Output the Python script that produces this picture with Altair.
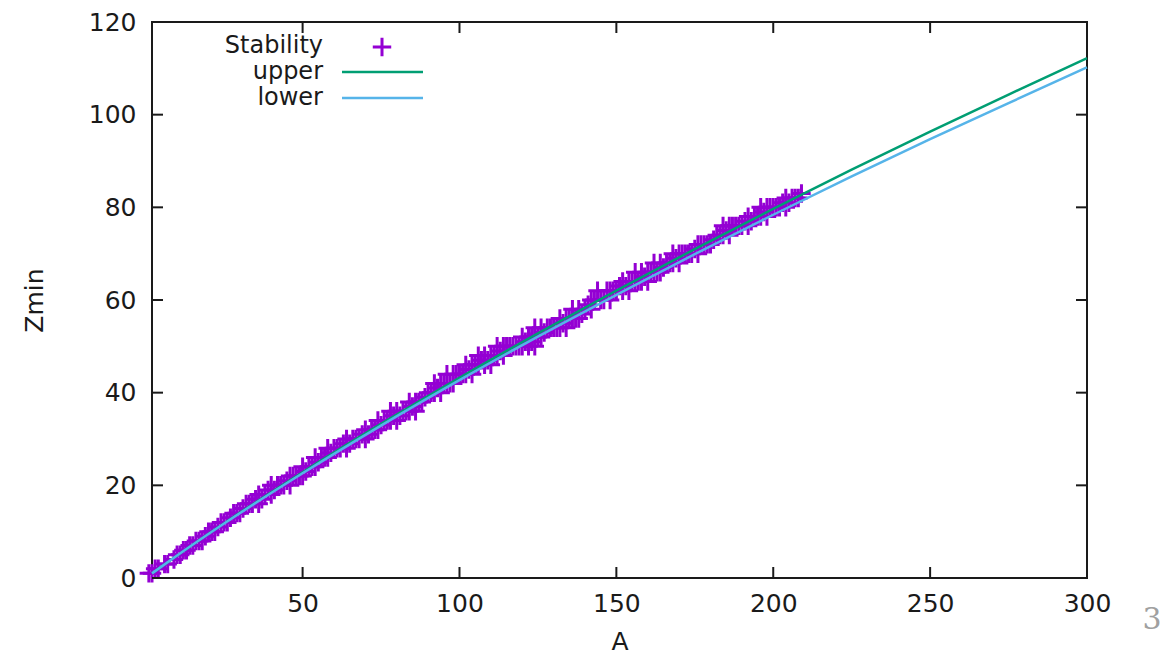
import altair as alt
import pandas as pd

# ---- data ----
stab_A = [
    1, 2, 3, 4, 6, 7, 9, 10, 11, 12, 13, 14, 15, 16, 17, 18, 19, 20, 21, 22,
    23, 24, 25, 26, 27, 28, 29, 30, 31, 32, 33, 34, 35, 36, 36, 37, 38, 39, 40, 40, 41, 42, 43, 44, 45,
    46, 46, 47, 48, 49, 50, 50, 51, 52, 53, 54, 54, 55, 56, 57, 58, 58, 59, 60, 61, 62, 63, 64, 64, 65, 66, 67, 68, 69,
    70, 70, 71, 72, 73, 74, 74, 75, 76, 77, 78, 78, 79, 80, 80, 81, 82, 83, 84, 84, 85, 86, 86, 87, 88, 89, 90, 91, 92, 92, 93, 94, 94, 95, 96, 96, 97, 98, 98, 99,
    100, 101, 102, 102, 103, 104, 104, 105, 106, 106, 107, 108, 108, 109, 110, 110, 111, 112, 112, 113, 114, 114, 115, 116, 117, 118, 119, 120, 120, 121, 122, 122, 123, 123, 124, 124, 124, 125,
    126, 126, 127, 128, 129, 130, 131, 132, 132, 133, 134, 134, 135, 136, 136, 137, 138, 138, 139, 140, 141, 142, 142, 143, 144, 145, 146, 147, 148, 148, 149, 150, 151,
    152, 152, 153, 154, 154, 155, 156, 156, 157, 158, 158, 159, 160, 160, 161, 162, 162, 163, 164, 164, 165, 166, 167, 168, 168, 169, 170, 170, 171, 172, 173, 174, 175, 176, 176, 177, 178, 179, 180,
    181, 182, 183, 184, 184, 185, 186, 186, 187, 188, 189, 190, 191, 192, 192, 193, 194, 195, 196, 196, 197, 198, 198, 199, 200, 201, 202, 203, 204, 204, 205, 206, 207, 208, 209,
]
stab_Z = [
    1, 1, 2, 2, 3, 3, 4, 5, 5, 6, 6, 7, 7, 8, 8, 8, 9, 10, 10, 10,
    11, 12, 12, 12, 13, 14, 14, 14, 15, 16, 16, 16, 17, 16, 18, 17, 18, 19, 18, 20, 19, 20, 20, 20, 21,
    20, 22, 22, 22, 22, 22, 24, 23, 24, 24, 24, 26, 25, 26, 26, 26, 28, 27, 28, 28, 28, 29, 28, 30, 29, 30, 30, 30, 31,
    30, 32, 31, 32, 32, 32, 34, 33, 34, 34, 34, 36, 35, 34, 36, 35, 36, 36, 36, 38, 37, 36, 38, 38, 38, 39, 40, 40, 40, 42, 41, 40, 42, 42, 42, 44, 42, 42, 44, 44,
    44, 44, 44, 46, 45, 44, 46, 46, 46, 48, 47, 46, 48, 47, 46, 48, 48, 48, 50, 49, 48, 50, 50, 50, 50, 50, 50, 50, 52, 51, 50, 52, 51, 52, 50, 52, 54, 52,
    52, 54, 53, 54, 54, 54, 54, 54, 56, 55, 54, 56, 56, 56, 58, 56, 56, 58, 57, 58, 59, 58, 60, 60, 62, 60, 60, 62, 60, 62, 62, 62, 63,
    62, 64, 63, 62, 64, 64, 64, 66, 64, 64, 66, 65, 64, 66, 66, 66, 68, 66, 66, 68, 67, 68, 68, 68, 70, 69, 68, 70, 70, 70, 70, 70, 71, 70, 72, 72, 72, 72, 72,
    73, 74, 74, 74, 76, 75, 74, 76, 76, 76, 76, 76, 77, 76, 78, 77, 78, 78, 78, 80, 79, 78, 80, 80, 80, 80, 80, 81, 80, 82, 81, 82, 82, 82, 83,
]
assert len(stab_A) == len(stab_Z)

line_A = [2, 10, 25, 50, 75, 100, 125, 150, 175, 200, 225, 250, 275, 300]
upper_Z = [1.0, 4.87, 11.83, 22.83, 33.25, 43.22, 52.80, 62.04, 70.99, 79.68, 88.12, 96.33, 104.34, 112.2]
lower_Z = [1.0, 4.85, 11.75, 22.6, 32.9, 42.7, 52.1, 61.1, 69.9, 78.4, 86.7, 94.7, 102.5, 110.2]

x_ticks = [50, 100, 150, 200, 250, 300]
y_ticks = [0, 20, 40, 60, 80, 100, 120]

series_names = ["Stability", "upper", "lower"]
page_label = "3"

# ---- styling ----
W, H = 935, 556
FONT = "DejaVu Sans"
INK = "#1a1a1a"
PURPLE = "#9400D3"
GREEN = "#009E73"
BLUE = "#56B4E9"
PLUS = "M-1,0L1,0M0,-1L0,1"

xs = alt.Scale(domain=[2, 300], nice=False, zero=False)
ys = alt.Scale(domain=[0, 120], nice=False, zero=False)

x_axis = alt.Axis(values=x_ticks, ticks=False, domain=False, grid=False,
                  labelFont=FONT, labelFontSize=25, labelColor=INK, labelPadding=13,
                  title="A", titleFont=FONT, titleFontSize=25, titleFontWeight="normal",
                  titleColor=INK, titlePadding=13, labelFlush=False)
y_axis = alt.Axis(values=y_ticks, ticks=False, domain=False, grid=False,
                  labelFont=FONT, labelFontSize=25, labelColor=INK, labelPadding=16,
                  title="Zmin", titleFont=FONT, titleFontSize=25, titleFontWeight="normal",
                  titleColor=INK, titlePadding=41, labelFlush=False)

X = lambda f: alt.X(f, type="quantitative", scale=xs, axis=x_axis)
Y = lambda f: alt.Y(f, type="quantitative", scale=ys, axis=y_axis)

stab = pd.DataFrame({"A": stab_A, "Z": stab_Z})
up = pd.DataFrame({"A": line_A, "Z": upper_Z})
lo = pd.DataFrame({"A": line_A, "Z": lower_Z})

points = alt.Chart(stab).mark_point(shape=PLUS, size=340, stroke=PURPLE, strokeWidth=3,
                                    filled=False, opacity=1).encode(x=X("A"), y=Y("Z"))
upper = alt.Chart(up).mark_line(color=GREEN, strokeWidth=2.5, interpolate="monotone").encode(x=X("A"), y=Y("Z"))
lower = alt.Chart(lo).mark_line(color=BLUE, strokeWidth=2.5, interpolate="monotone").encode(x=X("A"), y=Y("Z"))

xt = pd.DataFrame({"A": x_ticks})
yt = pd.DataFrame({"Z": y_ticks})
tick_style = dict(color=INK, strokeWidth=2)
tb = alt.Chart(xt).mark_rule(**tick_style).encode(x=X("A"), y=alt.value(H), y2=alt.value(H - 11))
tt = alt.Chart(xt).mark_rule(**tick_style).encode(x=X("A"), y=alt.value(0), y2=alt.value(11))
tl = alt.Chart(yt).mark_rule(**tick_style).encode(y=Y("Z"), x=alt.value(0), x2=alt.value(11))
tr = alt.Chart(yt).mark_rule(**tick_style).encode(y=Y("Z"), x=alt.value(W - 11), x2=alt.value(W))

# ---- legend (gnuplot style: label, then sample) ----
def one(label):
    return pd.DataFrame({"t": [label]})

leg_rows = [24, 50, 76]
leg_texts = [
    alt.Chart(one(n)).mark_text(align="right", baseline="middle", font=FONT, fontSize=24, color=INK)
    .encode(text="t:N", x=alt.value(171), y=alt.value(yy))
    for n, yy in zip(series_names, leg_rows)
]
leg_plus = alt.Chart(one("p")).mark_point(shape=PLUS, size=340, stroke=PURPLE, strokeWidth=3,
                                          filled=False, opacity=1).encode(x=alt.value(230), y=alt.value(25))
leg_up = alt.Chart(one("u")).mark_rule(color=GREEN, strokeWidth=2.5).encode(
    x=alt.value(190), x2=alt.value(271), y=alt.value(50))
leg_lo = alt.Chart(one("l")).mark_rule(color=BLUE, strokeWidth=2.5).encode(
    x=alt.value(190), x2=alt.value(271), y=alt.value(76))

page = alt.Chart(one(page_label)).mark_text(align="center", baseline="middle", font="DejaVu Serif",
                                            fontSize=30, color="#a0a0a0").encode(
    text="t:N", x=alt.value(1000), y=alt.value(598))

chart = alt.layer(points, upper, lower, tb, tt, tl, tr, *leg_texts, leg_plus, leg_up, leg_lo, page).properties(
    width=W, height=H,
    autosize=alt.AutoSizeParams(type="none"),
    padding={"left": 152, "top": 22, "right": 76, "bottom": 80},
    background="white",
).configure_view(stroke=INK, strokeWidth=2)

chart.save("out.html", embed_options={"renderer": "svg", "actions": False})
